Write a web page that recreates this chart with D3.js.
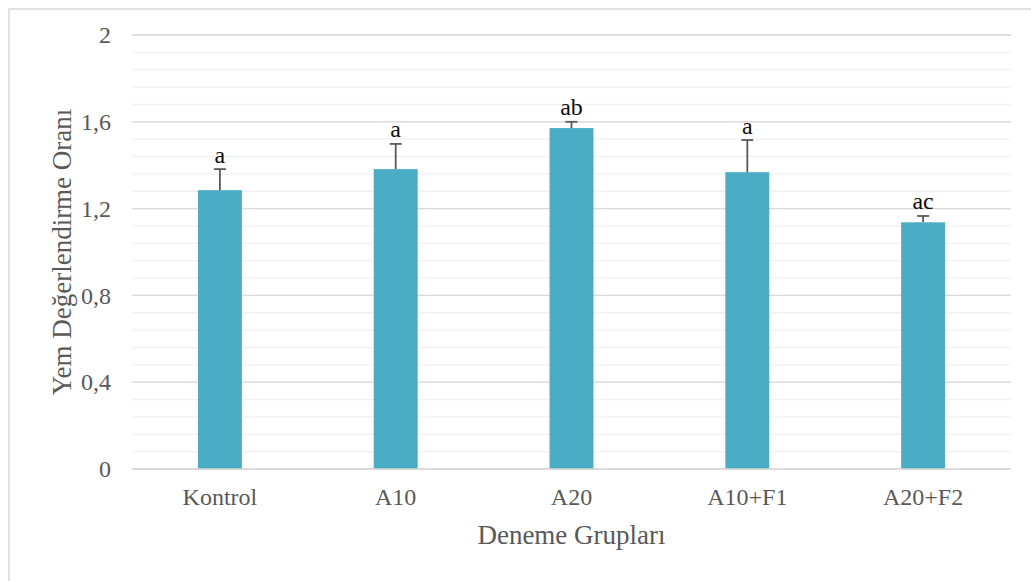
<!DOCTYPE html>
<html><head><meta charset="utf-8">
<script src="https://cdn.jsdelivr.net/npm/d3@7"></script>
<style>body{margin:0;background:#fff;}svg{display:block;}</style>
</head><body>
<script>
const categories = ["Kontrol", "A10", "A20", "A10+F1", "A20+F2"];
const values = [1.285, 1.382, 1.571, 1.368, 1.137];
const errors = [0.097, 0.116, 0.029, 0.148, 0.029];
const letters = ["a", "a", "ab", "a", "ac"];
const yTicks = [0, 0.4, 0.8, 1.2, 1.6, 2];
const yTickLabels = ["0", "0,4", "0,8", "1,2", "1,6", "2"];
const minorTicks = d3.range(0, 2.0001, 0.08);
const xTitle = "Deneme Grupları";
const yTitle = "Yem Değerlendirme Oranı";

const W = 1031, H = 581;
const svg = d3.select("body").append("svg").attr("width", W).attr("height", H);
const font = "'Liberation Serif','Times New Roman',serif";

// outer border
svg.append("rect").attr("x", 9).attr("y", 9).attr("width", W + 20).attr("height", H + 20)
  .attr("fill", "none").attr("stroke", "#d9d9d9").attr("stroke-width", 1.5);

const x = d3.scaleBand().domain(categories).range([132, 1011]).padding(0);
const y = d3.scaleLinear().domain([0, 2]).range([469, 35]);

// minor gridlines
svg.append("g").selectAll("line").data(minorTicks).join("line")
  .attr("x1", 132).attr("x2", 1011)
  .attr("y1", d => y(d)).attr("y2", d => y(d))
  .attr("stroke", "#f0f0f0").attr("stroke-width", 1.3);
// major gridlines
svg.append("g").selectAll("line").data(yTicks).join("line")
  .attr("x1", 132).attr("x2", 1011)
  .attr("y1", d => y(d)).attr("y2", d => y(d))
  .attr("stroke", "#d9d9d9").attr("stroke-width", 1.3);

// y tick labels
svg.append("g").selectAll("text").data(yTicks).join("text")
  .attr("x", 111).attr("y", d => y(d)).attr("dy", "0.34em")
  .attr("text-anchor", "end").attr("font-family", font).attr("font-size", 24)
  .attr("fill", "#595959").text((d, i) => yTickLabels[i]);

const bw = x.bandwidth() * 0.25;
const cx = c => x(c) + x.bandwidth() / 2;

// bars
svg.append("g").selectAll("rect").data(categories).join("rect")
  .attr("x", c => cx(c) - bw / 2).attr("width", bw)
  .attr("y", (c, i) => y(values[i])).attr("height", (c, i) => y(0) - y(values[i]))
  .attr("fill", "#4bacc6");

// redraw baseline over bars
svg.append("line").attr("x1", 132).attr("x2", 1011).attr("y1", y(0)).attr("y2", y(0))
  .attr("stroke", "#d9d9d9").attr("stroke-width", 1.3);

// error bars
const eg = svg.append("g").attr("stroke", "#595959").attr("stroke-width", 1.8);
categories.forEach((c, i) => {
  const top = y(values[i] + errors[i]);
  eg.append("line").attr("x1", cx(c)).attr("x2", cx(c)).attr("y1", y(values[i])).attr("y2", top);
  eg.append("line").attr("x1", cx(c) - 6).attr("x2", cx(c) + 6).attr("y1", top).attr("y2", top);
});

// letters
svg.append("g").selectAll("text").data(categories).join("text")
  .attr("x", c => cx(c)).attr("y", (c, i) => y(values[i] + errors[i]) - 6.5)
  .attr("text-anchor", "middle").attr("font-family", font).attr("font-size", 24)
  .attr("fill", "#0d0d0d").text((c, i) => letters[i]);

// x tick labels
svg.append("g").selectAll("text").data(categories).join("text")
  .attr("x", c => cx(c)).attr("y", 505)
  .attr("text-anchor", "middle").attr("font-family", font).attr("font-size", 24)
  .attr("fill", "#595959").text(c => c);

// axis titles
svg.append("text").attr("x", (132 + 1011) / 2).attr("y", 544)
  .attr("text-anchor", "middle").attr("font-family", font).attr("font-size", 27)
  .attr("fill", "#595959").text(xTitle);
svg.append("text").attr("transform", `translate(71,${(35 + 469) / 2}) rotate(-90)`)
  .attr("text-anchor", "middle").attr("font-family", font).attr("font-size", 27)
  .attr("fill", "#595959").text(yTitle);
</script>
</body></html>
